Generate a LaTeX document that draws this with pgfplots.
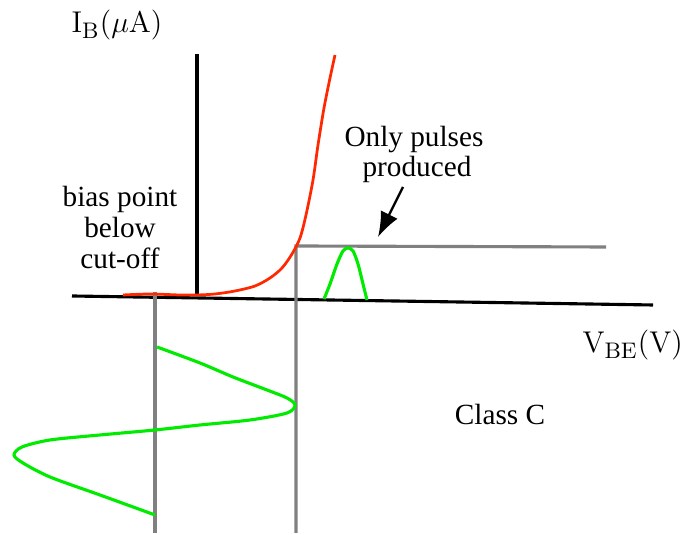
\documentclass[border=0pt]{standalone}
\usepackage[no-math]{fontspec}
\setmainfont{Liberation Serif}
\usepackage{pgfplots}
\pgfplotsset{compat=1.18}
\usetikzlibrary{arrows.meta}
\definecolor{myred}{RGB}{255,40,0}
\definecolor{mygreen}{RGB}{0,235,0}
\definecolor{mygray}{RGB}{128,128,128}
\begin{document}
\begin{tikzpicture}
\begin{axis}[scale only axis, width=276.4pt, height=213.2pt,
  xmin=0, xmax=691, ymin=0, ymax=533, y dir=reverse,
  hide axis, clip=false]
\path (axis cs:0,0) rectangle (axis cs:691,533);
% axes
\addplot[black, line width=1.25pt] coordinates {(72,296) (653,305)};
\addplot[black, line width=1.25pt] coordinates {(197,54) (197,295)};
% gray lines
\addplot[mygray, line width=1.25pt] coordinates {(155,292) (155,533)};
\addplot[mygray, line width=1.25pt] coordinates {(296,533) (296,246) (606,247)};
% red characteristic
\addplot[myred, line width=1.1pt, smooth] coordinates {
(123,295) (150,294) (180,295) (197,295) (215,294) (235,291) (255,286) (270,278)
(282,268) (292,254) (300,238) (306,215) (313,180) (318,145) (324,108) (330,78) (335,55)};
% green input sine
\addplot[mygreen, line width=1.25pt, smooth] coordinates {
(157,347) (200,363) (233,377) (267,390) (287,398) (295,405) (287,413) (250,420)
(200,425) (155,430) (100,435) (50,440) (22,447) (14,455) (23,463) (50,477)
(100,495) (155,515)};
% green pulse
\addplot[mygreen, line width=1.25pt, smooth] coordinates {
(324,299) (330,284) (337,264) (343,251) (348,248) (353,251) (358,264) (363,284) (367,300)};
% arrow
\addplot[black, line width=0.9pt, -{Latex[length=10pt,width=7.5pt]}] coordinates {(403,187) (378,237)};
% text
\node[anchor=base, font=\fontsize{11.7}{13}\selectfont] at (axis cs:120,207) {bias point};
\node[anchor=base, font=\fontsize{11.7}{13}\selectfont] at (axis cs:120,238) {below};
\node[anchor=base, font=\fontsize{11.7}{13}\selectfont] at (axis cs:120,269) {cut-off};
\node[anchor=base, font=\fontsize{11.7}{13}\selectfont] at (axis cs:414,147) {Only pulses};
\node[anchor=base, font=\fontsize{11.7}{13}\selectfont] at (axis cs:417,177) {produced};
\node[anchor=base, font=\fontsize{11.7}{13}\selectfont] at (axis cs:500,425) {Class C};
\node[anchor=base, font=\fontsize{13}{15}\selectfont] at (axis cs:117,33) {$\mathrm{I}_{\mathrm{B}}(\mu\mathrm{A})$};
\node[anchor=base west, inner sep=0pt, font=\fontsize{13}{15}\selectfont] at (axis cs:582,353) {$\mathrm{V}_{\mathrm{BE}}(\mathrm{V})$};
\end{axis}
\end{tikzpicture}
\end{document}
